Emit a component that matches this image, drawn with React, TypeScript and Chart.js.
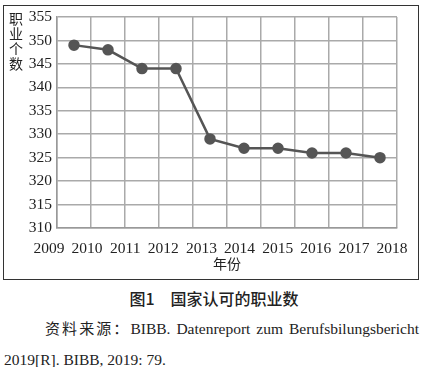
import React, { useEffect, useRef } from "react";
import { Chart, registerables } from "chart.js";

Chart.register(...registerables);

const categories = ["2009", "2010", "2011", "2012", "2013", "2014", "2015", "2016", "2017", "2018"];
const occupations = [349, 348, 344, 344, 329, 327, 327, 326, 326, 325];
const yearTicks = [2009, 2010, 2011, 2012, 2013, 2014, 2015, 2016, 2017, 2018];
const yTitle = "职业个数";
const xTitle = "年份";
const caption = "图1\u3000国家认可的职业数";
const sourceLabel = "资料来源：";
const source1 = "BIBB. Datenreport zum Berufsbilungsbericht";
const source2 = "2019[R]. BIBB, 2019: 79.";

const serif = "'Liberation Serif', 'Times New Roman', Tinos, serif";

export default function App() {
  const ref = useRef<HTMLCanvasElement>(null);

  useEffect(() => {
    document.body.style.margin = "0";
    document.body.style.overflow = "hidden";
    const ctx = ref.current!;
    const chart = new Chart(ctx, {
      type: "line",
      data: {
        labels: categories,
        datasets: [
          {
            data: occupations,
            borderColor: "#555",
            backgroundColor: "#555",
            borderWidth: 2.5,
            pointRadius: 4.5,
            pointBackgroundColor: "#555",
            pointBorderColor: "#555",
            tension: 0,
            xAxisID: "x",
          },
        ],
      },
      options: {
        responsive: false,
        animation: false,
        plugins: { legend: { display: false }, tooltip: { enabled: false } },
        layout: { padding: { top: 17, right: 31, bottom: 8, left: 0 } },
        scales: {
          x: {
            type: "category",
            offset: true,
            grid: { offset: true, color: "#aaa", lineWidth: 1.5, drawTicks: false },
            border: { color: "#999", width: 1.5 },
            ticks: { display: false },
            afterFit: (s: any) => {
              s.height = 0;
            },
          },
          y: {
            min: 310,
            max: 355,
            ticks: {
              stepSize: 5,
              padding: 5,
              color: "#222",
              font: { family: serif, size: 15.5 },
            },
            grid: { color: "#aaa", lineWidth: 1.5, drawTicks: false },
            border: { color: "#999", width: 1.5 },
            afterFit: (s: any) => {
              s.width = 57;
            },
          },
          x2: {
            type: "linear",
            axis: "x",
            position: "bottom",
            min: 2009.21,
            max: 2018.13,
            grid: { display: false, drawTicks: false },
            border: { display: false },
            afterBuildTicks: (s: any) => {
              s.ticks = yearTicks.map((v) => ({ value: v }));
            },
            ticks: {
              padding: 12,
              autoSkip: false,
              maxRotation: 0,
              color: "#222",
              font: { family: serif, size: 15.5 },
              callback: (v: any) => String(v),
            },
            title: {
              display: true,
              text: xTitle,
              color: "#222",
              padding: { top: 0, bottom: 0 },
              font: { family: "'Noto Sans CJK SC', sans-serif", size: 14 },
            },
            afterFit: (s: any) => {
              s.height = 44;
            },
          },
        },
      },
    });
    return () => chart.destroy();
  }, []);

  return (
    <div style={{ position: "relative", width: 428, height: 367, overflow: "hidden", background: "#fff" }}>
      <div
        style={{
          position: "absolute",
          left: 3,
          top: 5,
          width: 414,
          height: 273,
          border: "1.5px solid #333",
        }}
      />
      <canvas ref={ref} width={428} height={280} style={{ position: "absolute", left: 0, top: 0 }} />
      <div
        style={{
          position: "absolute",
          left: 8,
          top: 12,
          writingMode: "vertical-rl",
          fontFamily: "'Noto Sans CJK SC', sans-serif",
          fontSize: 14,
          letterSpacing: 1,
          lineHeight: "15px",
          color: "#222",
        }}
      >
        {yTitle}
      </div>
      <div
        style={{
          position: "absolute",
          left: 0,
          width: 428,
          top: 286,
          textAlign: "center",
          fontFamily: "'Noto Sans CJK SC', sans-serif",
          fontSize: 16,
          fontWeight: 500,
          color: "#222",
        }}
      >
        {caption}
      </div>
      <div
        style={{
          position: "absolute",
          left: 4,
          width: 415,
          top: 312,
          fontFamily: serif,
          fontSize: 15.5,
          lineHeight: "31px",
          color: "#222",
        }}
      >
        <div style={{ textIndent: 41, textAlign: "justify", textAlignLast: "justify", whiteSpace: "nowrap" }}>
          <span style={{ fontFamily: "'Noto Sans CJK SC', sans-serif", fontSize: 15 }}>{sourceLabel}</span>
          {source1}
        </div>
        <div>{source2}</div>
      </div>
    </div>
  );
}
